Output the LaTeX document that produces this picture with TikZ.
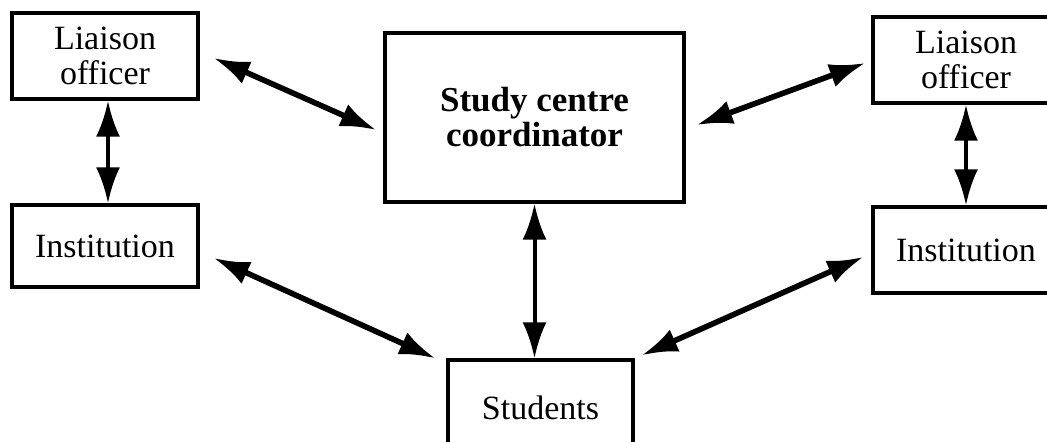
\documentclass[tikz,border=0pt]{standalone}
\usepackage{fontspec}
\setmainfont{Liberation Serif}
\usetikzlibrary{arrows.meta}

\begin{document}
\begin{tikzpicture}[x=0.5pt, y=-0.5pt,
  box/.style={rectangle, draw, line width=1.7pt, minimum width=93pt,
    minimum height=43pt, inner sep=0pt, align=center,
    font=\fontsize{17}{17.5}\selectfont},
  link/.style={{Latex[length=18pt,width=12pt]}-{Latex[length=18pt,width=12pt]},
    line width=2.8pt},
  vlink/.style={link, line width=2pt},
]
  \useasboundingbox (0,0) rectangle (1047,442);

  % Left column
  \node[box] (lo1) at (105,56) {Liaison\\officer};
  \node[box, minimum height=41pt] (inst1) at (105,246) {Institution};

  % Centre
  \node[box, minimum width=149.5pt, minimum height=84.5pt, font=\fontsize{17.5}{17.5}\selectfont\bfseries]
    (scc) at (534.5,117.5) {Study centre\\coordinator};

  % Right column
  \node[box] (lo2) at (966,60) {Liaison\\officer};
  \node[box] (inst2) at (966,250) {Institution};

  % Bottom
  \node[box, minimum width=92.5pt, minimum height=48pt] (stud) at (540.5,408) {Students};

  % Links
  \draw[link] ([shift={(14,2)}]lo1.east) -- ([shift={(-7,12.5)}]scc.west);
  \draw[link] ([shift={(11,7.5)}]scc.east) -- ([shift={(-6,3)}]lo2.west);
  \draw[link] ([shift={(14,12)}]inst1.east) -- ([shift={(-11,0)}]stud.north west);
  \draw[link] ([shift={(7,-3)}]stud.north east) -- ([shift={(-8,7)}]inst2.west);
  \draw[vlink] ([xshift=1.5pt]lo1.south) -- ([xshift=1.5pt]inst1.north);
  \draw[vlink] (lo2.south) -- (inst2.north);
  \draw[vlink] (scc.south) -- (scc.south |- stud.north);
\end{tikzpicture}
\end{document}
